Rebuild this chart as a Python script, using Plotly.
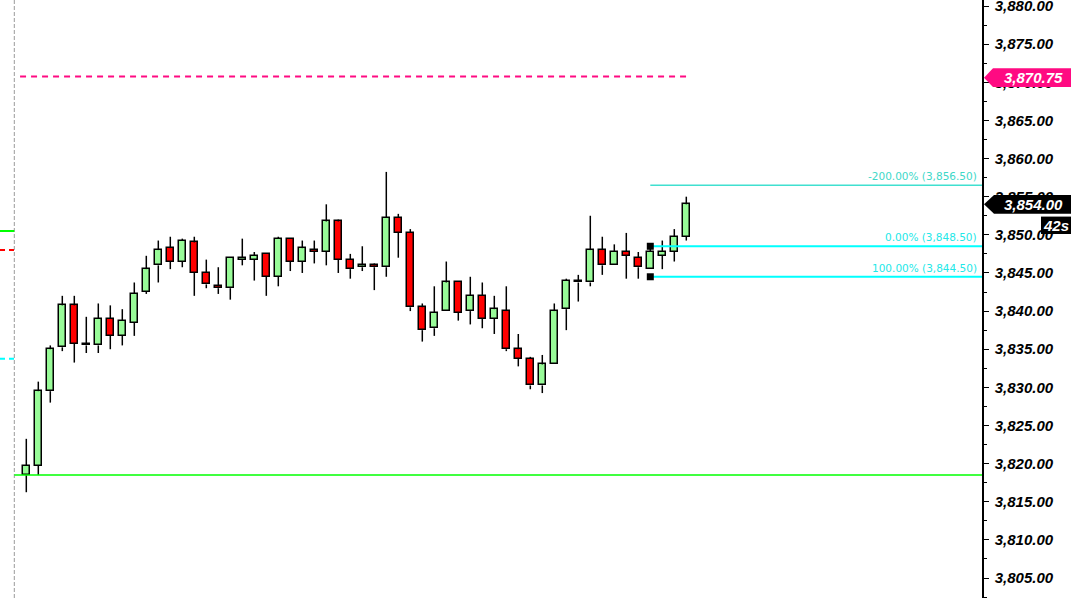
import plotly.graph_objects as go

# ---- data ----
opens  = [3818.5, 3819.75, 3829.5, 3835.25, 3840.75, 3835.75, 3835.5, 3839.0, 3836.75, 3838.5,
          3842.5, 3846.0, 3848.25, 3846.5, 3849.0, 3845.0, 3843.25, 3843.0, 3846.75, 3846.75,
          3847.5, 3844.5, 3849.5, 3846.5, 3848.0, 3847.75, 3851.75, 3846.75, 3845.75, 3846.0,
          3845.75, 3852.25, 3850.25, 3840.5, 3837.75, 3840.0, 3843.75, 3840.0, 3842.0, 3839.0,
          3840.0, 3835.0, 3833.75, 3830.25, 3833.0, 3840.25, 3844.0, 3843.75, 3848.0, 3846.0,
          3847.75, 3847.0, 3845.5, 3847.25, 3847.75, 3849.75]
highs  = [3823.25, 3830.75, 3835.5, 3842.0, 3842.0, 3839.25, 3841.0, 3840.75, 3840.25, 3843.75,
          3847.25, 3849.25, 3849.75, 3849.5, 3849.75, 3846.75, 3845.75, 3847.0, 3849.5, 3847.75,
          3847.5, 3849.75, 3849.5, 3849.25, 3849.25, 3854.0, 3852.0, 3847.5, 3848.5, 3846.25,
          3858.25, 3852.75, 3850.75, 3841.0, 3843.25, 3846.5, 3843.75, 3844.5, 3843.75, 3842.0,
          3843.25, 3837.0, 3834.0, 3834.25, 3841.0, 3844.25, 3844.75, 3852.5, 3849.75, 3848.75,
          3850.25, 3847.75, 3848.25, 3849.25, 3850.75, 3855.0]
lows   = [3816.25, 3818.5, 3828.0, 3834.75, 3833.25, 3834.5, 3834.5, 3835.0, 3835.5, 3836.75,
          3842.25, 3843.75, 3845.5, 3845.75, 3842.0, 3843.0, 3842.25, 3841.5, 3846.0, 3844.0,
          3842.0, 3843.25, 3845.25, 3845.0, 3846.25, 3846.0, 3845.0, 3844.25, 3845.25, 3842.75,
          3844.5, 3847.0, 3840.0, 3836.0, 3836.75, 3840.0, 3838.75, 3838.25, 3837.75, 3837.0,
          3834.75, 3832.75, 3829.75, 3829.25, 3833.0, 3837.5, 3841.25, 3843.25, 3844.75, 3846.0,
          3844.25, 3844.25, 3845.5, 3845.5, 3846.5, 3849.25]
closes = [3819.75, 3829.5, 3835.0, 3840.75, 3835.75, 3835.5, 3839.0, 3836.75, 3838.75, 3842.25,
          3845.5, 3848.0, 3846.5, 3849.25, 3845.0, 3843.5, 3843.0, 3847.0, 3847.0, 3847.25,
          3844.5, 3849.5, 3846.5, 3848.25, 3847.75, 3851.75, 3846.75, 3845.5, 3846.0, 3845.75,
          3852.25, 3850.25, 3840.5, 3837.5, 3839.75, 3843.75, 3839.75, 3842.0, 3839.0, 3840.25,
          3835.0, 3833.75, 3830.25, 3833.0, 3840.0, 3844.0, 3843.75, 3848.0, 3846.0, 3847.75,
          3847.25, 3845.75, 3847.75, 3847.75, 3849.75, 3854.0]

support_level = 3818.5
target_level = 3870.75
left_levels = [3850.5, 3848.0, 3833.75]          # green, red, cyan stubs at left edge
fib_anchor_index = 52
fib_levels = [3856.5, 3848.5, 3844.5]
fib_labels = ["-200.00% (3,856.50)", "0.00% (3,848.50)", "100.00% (3,844.50)"]
last_price = 3854.0
timer_text = "42s"

# ---- derived ----
n = len(opens)
xs = list(range(n))
body_base = [min(o, c) for o, c in zip(opens, closes)]
body_h = [abs(c - o) for o, c in zip(opens, closes)]
body_col = ["#FF0000" if c < o else "#98FB98" for o, c in zip(opens, closes)]

wx, wy = [], []
for i in xs:
    top = max(opens[i], closes[i]); bot = min(opens[i], closes[i])
    wx += [i, i, None, i, i, None]
    wy += [highs[i], top, None, bot, lows[i], None]

XMIN = -26.3 / 12
XMAX = (982 - 26.3) / 12
YMIN, YMAX = 3802.38, 3880.79

fig = go.Figure()
fig.add_trace(go.Scatter(x=wx, y=wy, mode="lines", line=dict(color="black", width=1.5),
                         hoverinfo="skip", showlegend=False))
fig.add_trace(go.Bar(x=xs, y=body_h, base=body_base, width=0.6,
                     marker=dict(color=body_col, line=dict(color="black", width=1.5)),
                     showlegend=False))

shapes = []
shapes.append(dict(type="line", xref="x", yref="paper", x0=-1, x1=-1, y0=0, y1=1,
                   line=dict(color="#9a9a9a", width=1, dash="4px,2px")))
shapes.append(dict(type="line", xref="x", yref="y", x0=-1, x1=XMAX, y0=support_level, y1=support_level,
                   line=dict(color="#00FF00", width=1.5)))
shapes.append(dict(type="line", xref="x", yref="y", x0=-0.52, x1=55.15, y0=target_level, y1=target_level,
                   line=dict(color="#FF0A82", width=2, dash="6px,5px")))
stub_styles = [("#00FF00", "solid"), ("#FF0000", "5px,4px"), ("#00FFFF", "5px,4px")]
for lv, (col, ds) in zip(left_levels, stub_styles):
    shapes.append(dict(type="line", xref="x", yref="y", x0=XMIN, x1=-1, y0=lv, y1=lv,
                       line=dict(color=col, width=2, dash=ds)))
fib_cols = ["#40E0D0", "#00FFFF", "#00FFFF"]
fib_w = [1.5, 2, 2]
for lv, col, w in zip(fib_levels, fib_cols, fib_w):
    shapes.append(dict(type="line", xref="x", yref="y", x0=fib_anchor_index, x1=XMAX, y0=lv, y1=lv,
                       line=dict(color=col, width=w)))
# fib anchor handles (drawn above the lines)
for lv in fib_levels[1:]:
    shapes.append(dict(type="rect", xref="x", yref="y", xsizemode="pixel", ysizemode="pixel",
                       xanchor=fib_anchor_index, yanchor=lv, x0=-3.5, x1=3.5, y0=-3.5, y1=3.5,
                       fillcolor="black", line=dict(width=0)))

def tag(price, color, path):
    return dict(type="path", xref="paper", yref="y", xsizemode="pixel", ysizemode="pixel",
                xanchor=1, yanchor=price, path=path, fillcolor=color, line=dict(width=0))
shapes.append(tag(target_level - 0.15, "#FF0A82", "M 2,0 L 11,9.4 L 89,9.4 L 89,-9.4 L 11,-9.4 Z"))
shapes.append(tag(last_price, "black", "M 2,0 L 12,9.4 L 89,9.4 L 89,-9.4 L 12,-9.4 Z"))
shapes.append(tag(3851.25, "black", "M 59,8.7 L 89,8.7 L 89,-8.7 L 59,-8.7 Z"))

annotations = []
fib_txt_cols = ["#3ED8C8", "#22E8E8", "#22E8E8"]
for lv, txt, col in zip(fib_levels, fib_labels, fib_txt_cols):
    annotations.append(dict(xref="paper", yref="y", x=1, y=lv, xshift=-3, yshift=9,
                            xanchor="right", yanchor="middle", showarrow=False, text=txt,
                            font=dict(family="DejaVu Sans", size=10.5, color=col)))
lab_font = dict(family="Liberation Sans", size=15, color="white", weight="bold", style="italic")
annotations.append(dict(xref="paper", yref="y", x=1, y=target_level - 0.15, xshift=51, showarrow=False,
                        text=f"{target_level:,.2f}", xanchor="center", yanchor="middle", font=lab_font))
annotations.append(dict(xref="paper", yref="y", x=1, y=last_price, xshift=51, showarrow=False,
                        text=f"{last_price:,.2f}", xanchor="center", yanchor="middle", font=lab_font))
annotations.append(dict(xref="paper", yref="y", x=1, y=3851.25, xshift=74, showarrow=False,
                        text=timer_text, xanchor="center", yanchor="middle", font=lab_font))

fig.update_layout(
    width=1073, height=598, margin=dict(l=0, r=91, t=0, b=0, autoexpand=False),
    paper_bgcolor="white", plot_bgcolor="white", bargap=0,
    shapes=shapes, annotations=annotations, showlegend=False,
    xaxis=dict(range=[XMIN, XMAX], visible=False, showgrid=False, zeroline=False),
    yaxis=dict(range=[YMIN, YMAX], side="right", showgrid=False, zeroline=False,
               tickmode="linear", tick0=3805, dtick=5, tickformat=",.2f",
               ticks="outside", ticklen=5, tickcolor="black", tickwidth=1,
               showline=True, linecolor="black", linewidth=1.5,
               ticklabelstandoff=3, ticklabeloverflow="allow", automargin=False,
               minor=dict(ticks="outside", ticklen=3, dtick=2.5, tickcolor="black"),
               tickfont=dict(family="Liberation Sans", size=15, color="black",
                             weight="bold", style="italic")),
)
fig.write_html("out.html", config={"displayModeBar": False},
               post_script="document.body.style.margin='0';document.body.style.overflow='hidden';")
